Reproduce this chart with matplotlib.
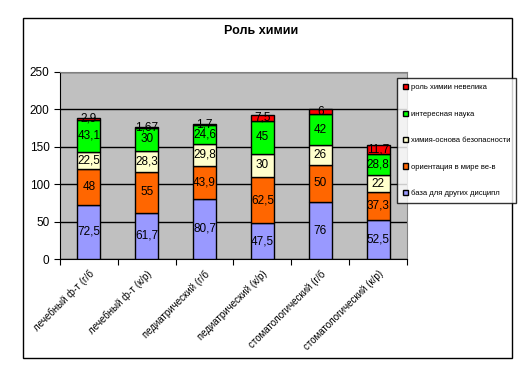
import matplotlib
matplotlib.use("Agg")
import matplotlib.pyplot as plt
import numpy as np
from matplotlib.patches import Rectangle

plt.rcParams["font.family"] = ["Liberation Sans", "DejaVu Sans"]

categories = [
    "лечебный ф-т (г/б",
    "лечебный ф-т (к/р)",
    "педиатрический (г/б",
    "педиатрический (к/р)",
    "стоматологический (г/б",
    "стоматологический (к/р)",
]
series_names = [
    "база для других дисципл",
    "ориентация в мире ве-в",
    "химия-основа безопасности",
    "интересная наука",
    "роль химии невелика",
]
base_disc = [72.5, 61.7, 80.7, 47.5, 76, 52.5]
orientation = [48, 55, 43.9, 62.5, 50, 37.3]
safety = [22.5, 28.3, 29.8, 30, 26, 22]
interesting = [43.1, 30, 24.6, 45, 42, 28.8]
small_role = [2.9, 1.67, 1.7, 7.5, 6, 11.7]
labels_text = [
    ["72,5", "61,7", "80,7", "47,5", "76", "52,5"],
    ["48", "55", "43,9", "62,5", "50", "37,3"],
    ["22,5", "28,3", "29,8", "30", "26", "22"],
    ["43,1", "30", "24,6", "45", "42", "28,8"],
    ["2,9", "1,67", "1,7", "7,5", "6", "11,7"],
]
colors = ["#9999FF", "#FF6600", "#FFFFCC", "#00FF00", "#FF0000"]

fig = plt.figure(figsize=(5.23, 3.92), dpi=100)
fig.patches.append(Rectangle((23 / 523, 1 - 358 / 392), 489 / 523, 340 / 392,
                             transform=fig.transFigure, fill=False,
                             edgecolor="black", linewidth=1))
ax = fig.add_axes([60 / 523, 1 - 259 / 392, 347 / 523, 187 / 392])
ax.set_facecolor("#C0C0C0")

x = np.arange(len(categories))
bottom = np.zeros(len(categories))
all_series = [base_disc, orientation, safety, interesting, small_role]
handles = []
for vals, col, name, texts in zip(all_series, colors, series_names, labels_text):
    vals = np.array(vals)
    bars = ax.bar(x, vals, 0.4, bottom=bottom, color=col, edgecolor="black",
                  linewidth=1, label=name, zorder=3)
    handles.append(bars)
    for xi, b, v, t in zip(x, bottom, vals, texts):
        ax.text(xi, b + v / 2, t, ha="center", va="center", fontsize=8.5,
                color="black", zorder=4)
    bottom += vals

ax.set_ylim(0, 250)
ax.set_xlim(-0.5, len(categories) - 0.5)
ax.set_yticks(np.arange(0, 251, 50))
ax.yaxis.grid(True, color="black", linewidth=1, zorder=1)
ax.set_axisbelow(True)
ax.set_xticks(np.arange(-0.5, len(categories), 1))
ax.set_xticklabels([])
ax.set_xticks(x, minor=True)
ax.set_xticklabels(categories, minor=True, rotation=45, ha="right",
                   rotation_mode="anchor", fontsize=7)
ax.tick_params(axis="x", which="minor", length=0, pad=7)
ax.tick_params(axis="x", which="major", length=4, direction="out")
ax.tick_params(axis="y", length=4, direction="out", labelsize=8.5)
for side in ["top", "right"]:
    ax.spines[side].set_color("#808080")
ax.spines["left"].set_color("black")
ax.spines["bottom"].set_color("black")

fig.text(0.5, 1 - 31 / 392, "Роль химии", ha="center", va="center",
         fontsize=9, fontweight="bold")

leg = fig.legend(handles[::-1], series_names[::-1], loc="upper left",
                 bbox_to_anchor=(397 / 523, 1 - 78 / 392), fontsize=5.5,
                 frameon=True, fancybox=False, edgecolor="black",
                 handlelength=0.7, handleheight=0.7, handletextpad=0.3,
                 labelspacing=2.5, borderpad=0.8, borderaxespad=0)
leg.get_frame().set_linewidth(1)

fig.savefig("out.png", dpi=100)
